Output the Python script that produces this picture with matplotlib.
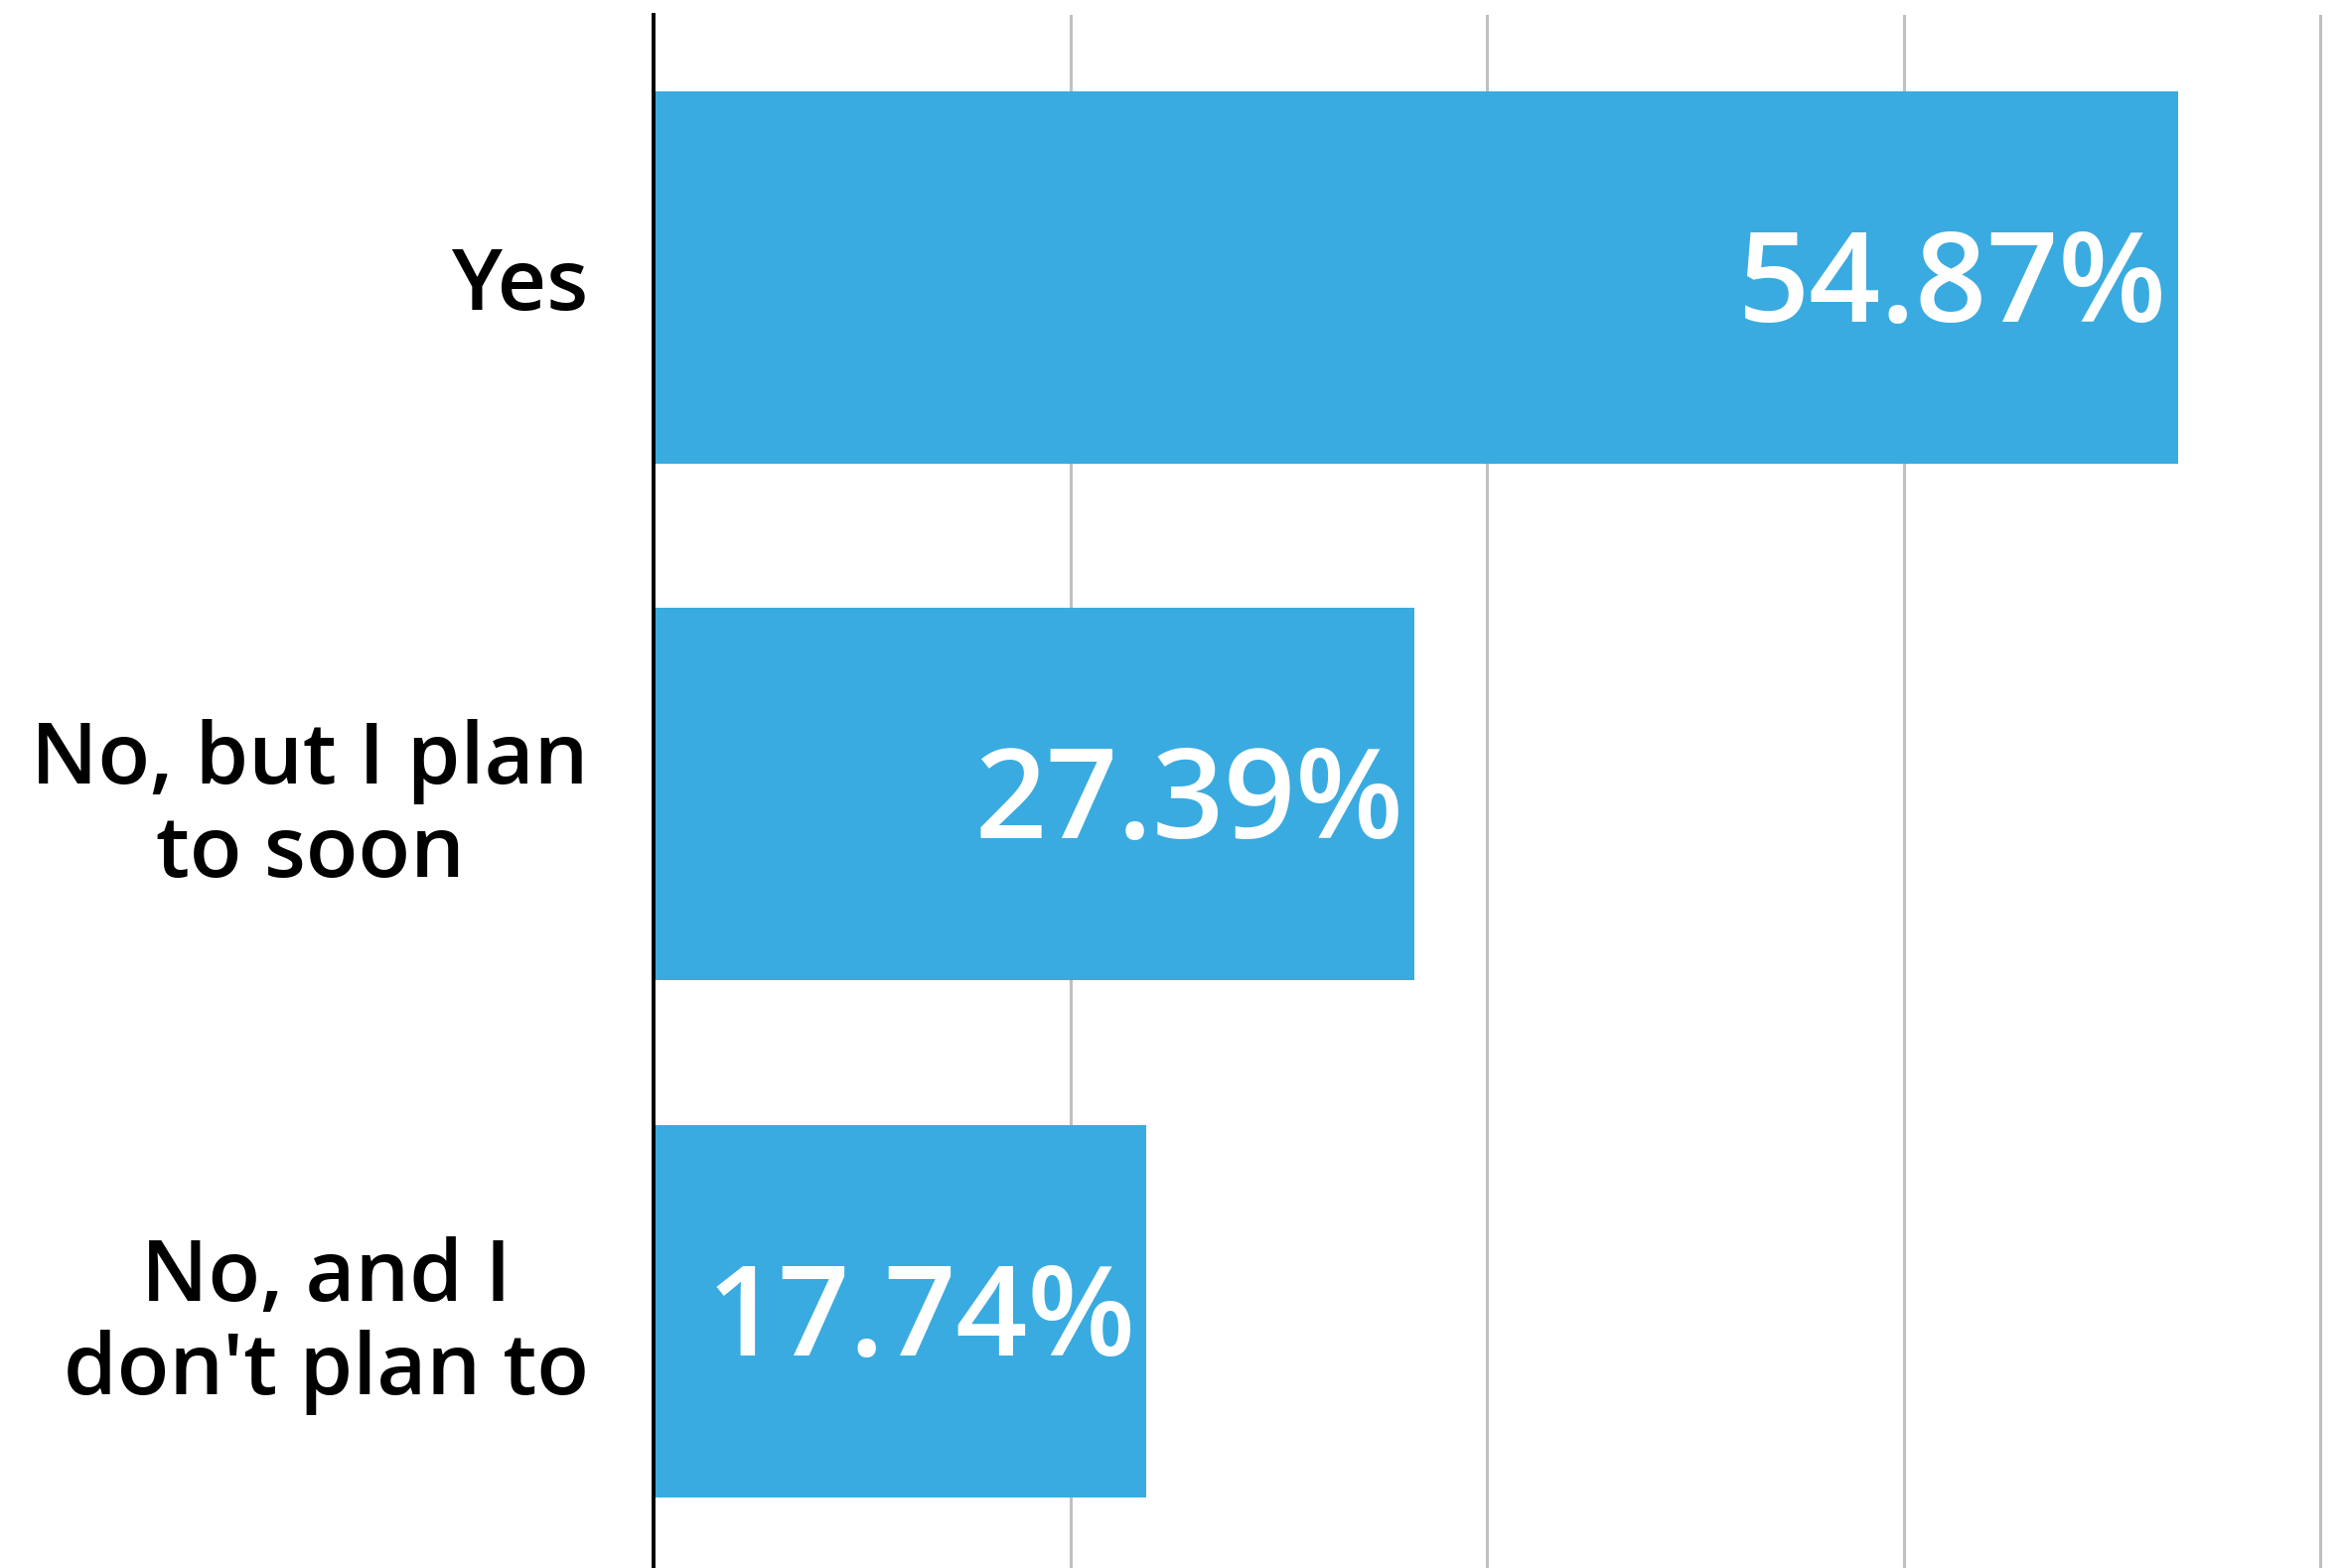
import matplotlib
matplotlib.use("Agg")
import matplotlib.pyplot as plt
from matplotlib.ticker import FixedLocator

categories = ["Yes", "No, but I plan\nto soon", "No, and I\ndon't plan to"]
values = [54.87, 27.39, 17.74]
value_labels = ["54.87%", "27.39%", "17.74%"]
grid_ticks = [15, 30, 45, 60]

BAR_COLOR = "#3aabe0"
FONT = "Open Sans"

fig = plt.figure(figsize=(23.63, 15.79), dpi=100)
ax = fig.add_axes([658 / 2363, 0, 1 - 658 / 2363, 1 - 15 / 1579])

y = list(range(len(categories)))
ax.barh(y, values, height=0.72, color=BAR_COLOR, zorder=3)

ax.set_xlim(0, 60.96)
ax.set_ylim(2.496, -0.507)

ax.xaxis.set_major_locator(FixedLocator(grid_ticks))
ax.grid(axis="x", color="#c0c0c0", linewidth=2.2, zorder=0)
ax.tick_params(axis="x", length=0, labelbottom=False)
ax.tick_params(axis="y", length=0, pad=47)

ax.set_yticks(y)
ax.set_yticklabels(categories, fontsize=62, fontfamily=FONT, fontweight="semibold",
                   multialignment="center", linespacing=1.12, color="black")

for s in ["top", "right", "bottom"]:
    ax.spines[s].set_visible(False)
ax.spines["left"].set_color("black")
ax.spines["left"].set_linewidth(2.8)
ax.spines["left"].set_zorder(4)

for yi, v, lab in zip(y, values, value_labels):
    ax.annotate(lab, xy=(v, yi), xytext=(-11, -12), textcoords="offset pixels",
                ha="right", va="center", color="white", fontsize=91,
                fontfamily=FONT, fontweight="semibold", zorder=5)

fig.savefig("out.png", dpi=100, facecolor="white")
